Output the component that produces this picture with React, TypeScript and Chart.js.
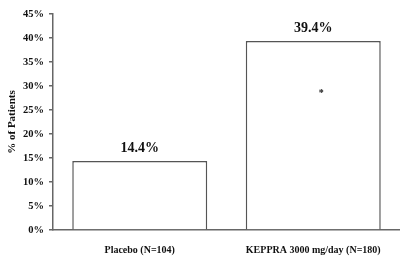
import React, { useEffect, useRef } from "react";
import { Chart, registerables } from "chart.js";

Chart.register(...registerables);

const categories = ["Placebo (N=104)", "KEPPRA 3000 mg/day (N=180)"];
const values = [14.4, 39.4];
const valueLabels = ["14.4%", "39.4%"];
const yTicks = [0, 5, 10, 15, 20, 25, 30, 35, 40, 45];
const asteriskIndex = 1;
const asteriskValue = 28.8;

const serif = "'Liberation Serif', 'Times New Roman', serif";

const labelPlugin = {
  id: "valueLabels",
  afterDatasetsDraw(chart: any) {
    const ctx = chart.ctx;
    const meta = chart.getDatasetMeta(0);
    ctx.save();
    ctx.fillStyle = "#111";
    ctx.textAlign = "center";
    ctx.textBaseline = "bottom";
    ctx.font = `bold 14px ${serif}`;
    meta.data.forEach((bar: any, i: number) => {
      ctx.fillText(valueLabels[i], bar.x, bar.y - 5);
    });
    const b = meta.data[asteriskIndex];
    if (b) {
      ctx.font = `bold 10px ${serif}`;
      ctx.textBaseline = "middle";
      ctx.fillText("*", b.x + 8, chart.scales.y.getPixelForValue(asteriskValue) + 2);
    }
    ctx.restore();
  },
};

export default function App() {
  const ref = useRef<HTMLCanvasElement>(null);
  useEffect(() => {
    if (!ref.current) return;
    const chart = new Chart(ref.current, {
      type: "bar",
      data: {
        labels: categories,
        datasets: [
          {
            data: values,
            backgroundColor: "#ffffff",
            borderColor: "#555555",
            borderWidth: 1.5,
            barPercentage: 0.778,
            categoryPercentage: 1,
          },
        ],
      },
      options: {
        responsive: false,
        animation: false,
        devicePixelRatio: 1,
        layout: { padding: { top: 14, right: 0, bottom: 0, left: 0 } },
        plugins: { legend: { display: false }, tooltip: { enabled: false } },
        scales: {
          x: {
            grid: { display: false },
            border: { display: true, color: "#666", width: 1.5 },
            ticks: {
              color: "#111",
              font: { family: serif, size: 10, weight: "bold" },
              padding: 6,
              maxRotation: 0,
              autoSkip: false,
            },
            afterFit: (s: any) => {
              s.height = 40;
            },
          },
          y: {
            min: 0,
            max: 45,
            afterBuildTicks: (s: any) => {
              s.ticks = yTicks.map((v) => ({ value: v }));
            },
            grid: {
              drawOnChartArea: false,
              drawTicks: true,
              tickLength: 4,
              color: "#666",
              lineWidth: 1.5,
            },
            border: { display: true, color: "#666", width: 1.5 },
            ticks: {
              color: "#111",
              font: { family: serif, size: 10.5, weight: "bold" },
              padding: 5,
              callback: (v: any) => `${v}%`,
            },
            title: {
              display: true,
              text: "% of Patients",
              color: "#111",
              font: { family: serif, size: 11, weight: "bold" },
              padding: { top: 6, bottom: 0 },
            },
            afterFit: (s: any) => {
              s.width = 53;
            },
          },
        },
      },
      plugins: [labelPlugin],
    });
    return () => chart.destroy();
  }, []);
  return (
    <div style={{ position: "fixed", left: 0, top: 0, width: 400, height: 270, background: "#fff" }}>
      <canvas ref={ref} width={400} height={270} />
    </div>
  );
}
